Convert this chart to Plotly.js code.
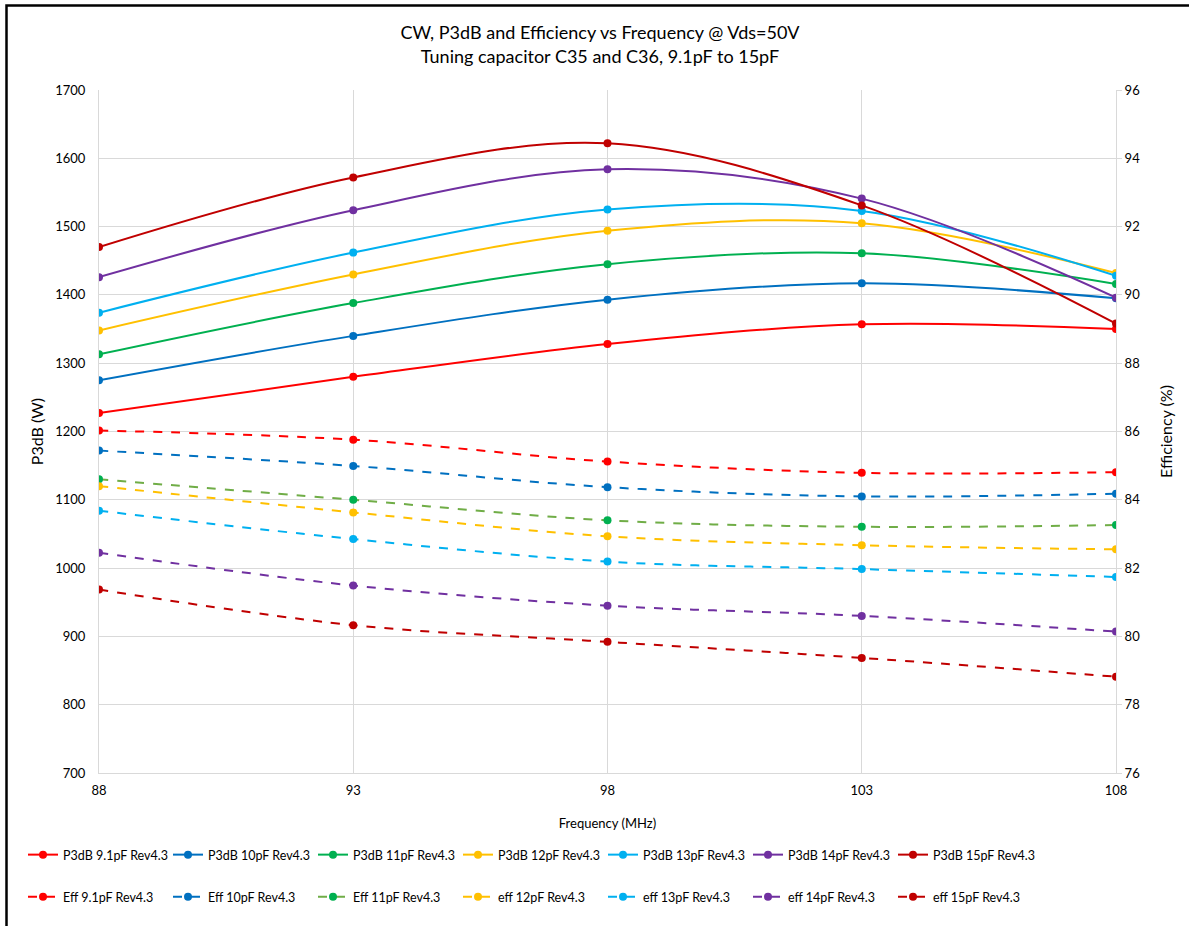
<!DOCTYPE html>
<html>
<head>
<meta charset="utf-8">
<script src="https://cdn.plot.ly/plotly-3.0.1.min.js"></script>
<style>
html,body{margin:0;padding:0;background:#fff;}
#chart{width:1189px;height:926px;}
</style>
</head>
<body>
<div id="chart"></div>
<script>
// Data
const freq = [88, 93, 98, 103, 108];

const p3dbNames = ["P3dB 9.1pF Rev4.3", "P3dB 10pF Rev4.3", "P3dB 11pF Rev4.3", "P3dB 12pF Rev4.3", "P3dB 13pF Rev4.3", "P3dB 14pF Rev4.3", "P3dB 15pF Rev4.3"];
const p3db_9_1pF = [1227, 1280, 1328, 1357, 1350];
const p3db_10pF  = [1275, 1340, 1393, 1417, 1395];
const p3db_11pF  = [1313, 1388, 1445, 1461, 1416];
const p3db_12pF  = [1348, 1430, 1494, 1505, 1432];
const p3db_13pF  = [1374, 1462, 1525, 1523, 1428];
const p3db_14pF  = [1426, 1524, 1584, 1541, 1396];
const p3db_15pF  = [1470, 1572, 1622, 1531, 1358];

const effNames = ["Eff 9.1pF Rev4.3", "Eff 10pF Rev4.3", "Eff 11pF Rev4.3", "eff 12pF Rev4.3", "eff 13pF Rev4.3", "eff 14pF Rev4.3", "eff 15pF Rev4.3"];
const eff_9_1pF = [86.03, 85.76, 85.12, 84.79, 84.81];
const eff_10pF  = [85.44, 84.99, 84.37, 84.10, 84.18];
const eff_11pF  = [84.60, 84.00, 83.40, 83.21, 83.26];
const eff_12pF  = [84.40, 83.63, 82.93, 82.67, 82.55];
const eff_13pF  = [83.68, 82.85, 82.19, 81.97, 81.74];
const eff_14pF  = [82.45, 81.49, 80.90, 80.60, 80.14];
const eff_15pF  = [81.37, 80.33, 79.84, 79.37, 78.82];

const p3dbSeries = [p3db_9_1pF, p3db_10pF, p3db_11pF, p3db_12pF, p3db_13pF, p3db_14pF, p3db_15pF];
const effSeries = [eff_9_1pF, eff_10pF, eff_11pF, eff_12pF, eff_13pF, eff_14pF, eff_15pF];

const colors = ["#FF0000", "#0070C0", "#00B050", "#FFC000", "#00B0F0", "#7030A0", "#C00000"];
const effLineColors = ["#FF0000", "#0070C0", "#70AD47", "#FFC000", "#00B0F0", "#7030A0", "#C00000"];

const FONT = "Lato, 'Open Sans', sans-serif";

const traces = [];
p3dbSeries.forEach((s, i) => {
  traces.push({
    x: freq, y: s, name: p3dbNames[i], type: "scatter", mode: "lines+markers",
    line: {color: colors[i], width: 2, shape: "spline", smoothing: 1},
    marker: {color: colors[i], size: 8},
    yaxis: "y", legend: "legend"
  });
});
effSeries.forEach((s, i) => {
  traces.push({
    x: freq, y: s, name: effNames[i], type: "scatter", mode: "lines+markers",
    line: {color: effLineColors[i], width: 2, dash: "dash", shape: "spline", smoothing: 1},
    marker: {color: colors[i], size: 8},
    yaxis: "y2", legend: "legend2"
  });
});

const legendCommon = {
  orientation: "h", xref: "paper", yref: "paper",
  x: (23 - 99) / 1017, xanchor: "left", yanchor: "middle",
  entrywidth: 100, entrywidthmode: "pixels",
  font: {family: FONT, size: 12.5, color: "#000"},
  bgcolor: "rgba(0,0,0,0)"
};

const layout = {
  width: 1189, height: 926,
  margin: {l: 99, r: 73, t: 90, b: 153},
  paper_bgcolor: "#fff", plot_bgcolor: "#fff",
  title: {
    text: "CW, P3dB and Efficiency vs Frequency @ Vds=50V<br>Tuning capacitor C35 and C36, 9.1pF to 15pF",
    font: {family: FONT, size: 18, color: "#000"},
    xref: "container", x: 0.5046, xanchor: "center",
    yref: "container", y: 0.9575, yanchor: "top"
  },
  showlegend: true,
  xaxis: {
    range: [88, 108], tickvals: [88, 93, 98, 103, 108], ticktext: ["88", "93", "98", "103", "108"],
    showgrid: true, gridcolor: "#d9d9d9", gridwidth: 1,
    showline: true, linecolor: "#d9d9d9", linewidth: 1,
    zeroline: false, ticks: "", ticklabelstandoff: 5,
    tickfont: {family: FONT, size: 13, color: "#000"},
    title: {text: "Frequency (MHz)", font: {family: FONT, size: 13, color: "#000"}, standoff: 22}
  },
  yaxis: {
    range: [700, 1700], dtick: 100,
    showgrid: true, gridcolor: "#d9d9d9", gridwidth: 1,
    showline: true, linecolor: "#d9d9d9", zeroline: false, ticks: "",
    ticklabelstandoff: 10,
    tickfont: {family: FONT, size: 13, color: "#000"},
    title: {text: "P3dB (W)", font: {family: FONT, size: 16, color: "#000"}, standoff: 7}
  },
  yaxis2: {
    range: [76, 96], dtick: 2, overlaying: "y", side: "right",
    showgrid: false, showline: true, linecolor: "#d9d9d9", zeroline: false,
    ticks: "outside", ticklen: 5, tickcolor: "#d9d9d9",
    tickfont: {family: FONT, size: 13, color: "#000"},
    title: {text: "Efficiency (%)", font: {family: FONT, size: 16, color: "#000"}, standoff: 21}
  },
  legend: Object.assign({}, legendCommon, {y: (773 - 855) / 683}),
  legend2: Object.assign({}, legendCommon, {y: (773 - 897) / 683}),
  shapes: [{
    type: "path", xref: "paper", yref: "paper",
    path: "M " + ((6.5-99)/1017) + "," + ((773-940)/683) + " L " + ((6.5-99)/1017) + "," + ((773-5.5)/683) + " L " + ((1200-99)/1017) + "," + ((773-5.5)/683),
    line: {color: "#000", width: 2.5}
  }]
};

Plotly.newPlot("chart", traces, layout, {displayModeBar: false, staticPlot: true});
</script>
</body>
</html>
